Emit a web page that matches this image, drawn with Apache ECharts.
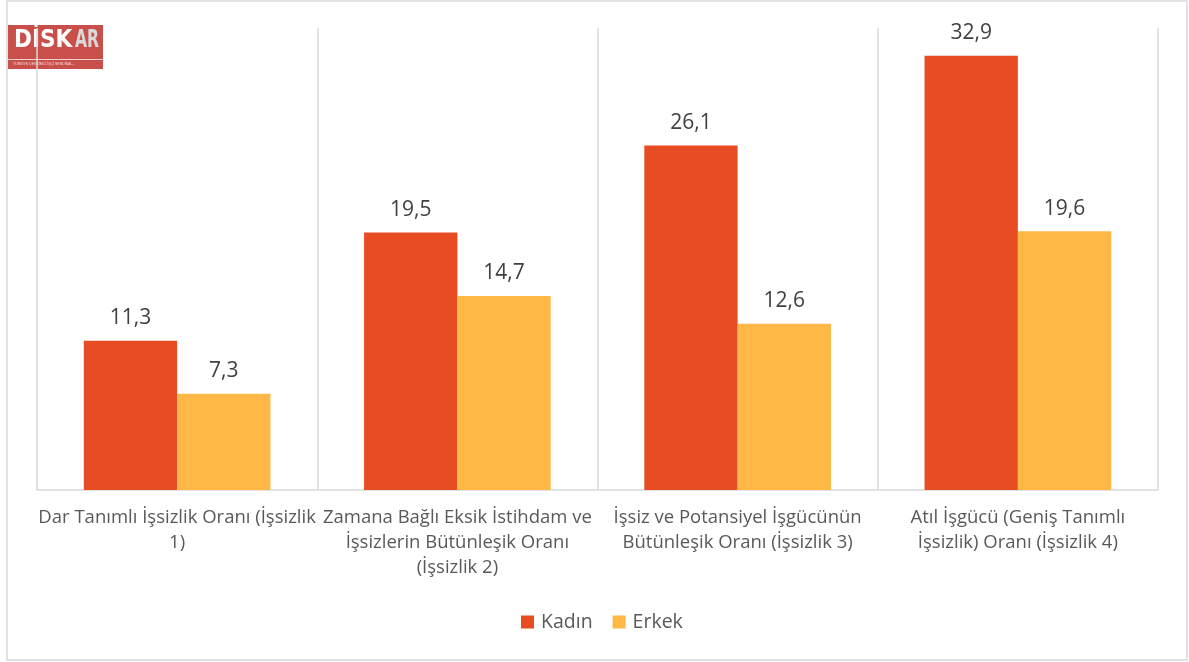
<!DOCTYPE html>
<html><head><meta charset="utf-8">
<script src="https://cdn.jsdelivr.net/npm/echarts@6/dist/echarts.min.js"></script>
<style>html,body{margin:0;padding:0;background:#fff}#c{width:1189px;height:662px}</style>
</head><body><div id="c"></div>
<script>
const categories = [
  "Dar Tanımlı İşsizlik Oranı (İşsizlik\n1)",
  "Zamana Bağlı Eksik İstihdam ve\nİşsizlerin Bütünleşik Oranı\n(İşsizlik 2)",
  "İşsiz ve Potansiyel İşgücünün\nBütünleşik Oranı (İşsizlik 3)",
  "Atıl İşgücü (Geniş Tanımlı\nİşsizlik) Oranı (İşsizlik 4)"
];
const seriesNames = ["Kadın", "Erkek"];
const kadin = [11.3, 19.5, 26.1, 32.9];
const erkek = [7.3, 14.7, 12.6, 19.6];

const FONT = "Open Sans";
const chart = echarts.init(document.getElementById('c'), null, {renderer: 'canvas'});
const labelCfg = {
  show: true, position: 'top', distance: 12,
  color: '#404040', fontSize: 21, fontFamily: FONT,
  formatter: p => String(p.value).replace('.', ',')
};
chart.setOption({
  animation: false,
  textStyle: {fontFamily: FONT},
  grid: {left: 37, right: 31, top: 28, bottom: 172},
  legend: {
    data: seriesNames, top: 607, left: 516,
    itemWidth: 13, itemHeight: 13, itemGap: 20, icon: 'rect',
    textStyle: {color: '#595959', fontSize: 19.5, fontFamily: FONT, padding: [0, 0, 0, 2]}
  },
  xAxis: {
    type: 'category', data: categories,
    axisLine: {lineStyle: {color: '#d9d9d9', width: 1.5}},
    axisTick: {show: false},
    splitLine: {show: true, lineStyle: {color: '#d9d9d9', width: 1.5}},
    axisLabel: {color: '#595959', fontSize: 18.5, fontFamily: FONT, margin: 15, lineHeight: 25, interval: 0}
  },
  yAxis: {
    type: 'value', min: 0, max: 35, show: false,
    splitLine: {show: false}
  },
  series: [
    {name: seriesNames[0], type: 'bar', data: kadin, barWidth: '33.3%', barGap: '0%',
     itemStyle: {color: '#E84C22'}, label: labelCfg},
    {name: seriesNames[1], type: 'bar', data: erkek, barWidth: '33.3%', barGap: '0%',
     itemStyle: {color: '#FFB845'}, label: labelCfg}
  ],
  graphic: [
    {type: 'rect', shape: {x: 7, y: 1, width: 1180, height: 659},
     style: {fill: 'none', stroke: '#d9d9d9', lineWidth: 1.5}, silent: true},
    {type: 'rect', shape: {x: 8, y: 25, width: 95, height: 44}, style: {fill: '#c9504a'}},
    {type: 'rect', shape: {x: 8, y: 59, width: 95, height: 1}, style: {fill: '#f1cfcc'}},
    {type: 'text', x: 14, y: 29, style: {text: 'DİSK', fill: '#ffffff', font: 'bold 24px "DejaVu Sans Condensed", sans-serif'}},
    {type: 'text', x: 75, y: 29, scaleX: 0.72, style: {text: 'AR', fill: '#d9d9d9', font: 'bold 24px "DejaVu Sans Condensed", sans-serif'}},
    {type: 'text', x: 13, y: 62, style: {text: 'TÜRKİYE DEVRİMCİ İŞÇİ SENDİKALARI ARAŞTIRMA MERKEZİ', fill: '#f6dcda', font: '3.5px sans-serif', width: 86, overflow: 'truncate'}}
  ]
});
</script></body></html>
